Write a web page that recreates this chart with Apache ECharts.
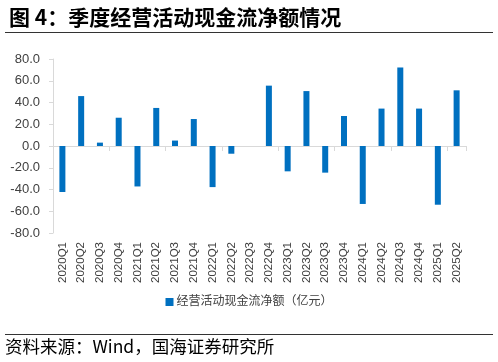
<!DOCTYPE html>
<html><head><meta charset="utf-8">
<script src="https://cdn.jsdelivr.net/npm/echarts@6/dist/echarts.min.js"></script>
<style>html,body{margin:0;padding:0;background:#fff}#c{width:498px;height:362px}</style>
</head><body><div id="c"></div>
<script>
const categories = ['2020Q1','2020Q2','2020Q3','2020Q4','2021Q1','2021Q2','2021Q3','2021Q4','2022Q1','2022Q2','2022Q3','2022Q4','2023Q1','2023Q2','2023Q3','2023Q4','2024Q1','2024Q2','2024Q3','2024Q4','2025Q1','2025Q2'];
const netCashFlow = [-42.3, 45.9, 3.1, 26.0, -37.2, 35.0, 5.0, 24.8, -37.8, -7.1, 0, 55.5, -23.3, 50.5, -24.5, 27.6, -53.3, 34.4, 72.2, 34.4, -54.0, 51.2];
const yTicks = {min: -80, max: 80, interval: 20};
const seriesName = '经营活动现金流净额（亿元）';
const titleText = '图 4：季度经营活动现金流净额情况';
const sourceText = '资料来源：Wind，国海证券研究所';

const FONT = '"Liberation Sans", "Noto Sans CJK SC", sans-serif';
const chart = echarts.init(document.getElementById('c'));
chart.setOption({
  animation: false,
  backgroundColor: '#fff',
  title: {
    text: titleText, left: 4, top: 2,
    textStyle: {fontSize: 21, fontWeight: 'bold', color: '#000', fontFamily: '"Noto Sans CJK SC", sans-serif'}
  },
  graphic: [
    {type: 'line', shape: {x1: 5, y1: 32.5, x2: 493, y2: 32.5}, style: {stroke: '#333', lineWidth: 1.2}},
    {type: 'line', shape: {x1: 5, y1: 334.5, x2: 493, y2: 334.5}, style: {stroke: '#333', lineWidth: 1.2}},
    {type: 'text', left: 5, top: 338, style: {text: sourceText, fontSize: 17.5, fill: '#000', fontFamily: '"Noto Sans CJK SC", sans-serif'}}
  ],
  legend: {
    data: [seriesName], bottom: 49, left: 'center',
    itemWidth: 8, itemHeight: 8, itemGap: 4, icon: 'rect',
    textStyle: {fontSize: 12, color: '#404040', fontFamily: FONT, padding: [0, 0, 0, -2]}
  },
  grid: {left: 53, right: 32, top: 59, bottom: 129, containLabel: false},
  xAxis: [
    {type: 'category', data: categories, position: 'bottom',
     axisLine: {onZero: true, lineStyle: {color: '#d9d9d9', width: 1}},
     axisTick: {show: true, length: 5, lineStyle: {color: '#d9d9d9'}},
     axisLabel: {show: false}},
    {type: 'category', data: categories, position: 'bottom',
     axisLine: {show: false, onZero: false}, axisTick: {show: false},
     axisLabel: {rotate: 90, fontSize: 11.5, color: '#404040', fontFamily: FONT, margin: 9, interval: 0}}
  ],
  yAxis: {
    type: 'value', min: yTicks.min, max: yTicks.max, interval: yTicks.interval,
    axisLine: {show: true, lineStyle: {color: '#d9d9d9'}},
    axisTick: {show: true, length: 4, lineStyle: {color: '#d9d9d9'}},
    splitLine: {show: false},
    axisLabel: {formatter: v => v.toFixed(1), fontSize: 13, color: '#404040', fontFamily: FONT, margin: 13}
  },
  series: [{
    name: seriesName, type: 'bar', xAxisIndex: 0, data: netCashFlow,
    barWidth: '32%', itemStyle: {color: '#0070C0'}
  }]
});
</script></body></html>
